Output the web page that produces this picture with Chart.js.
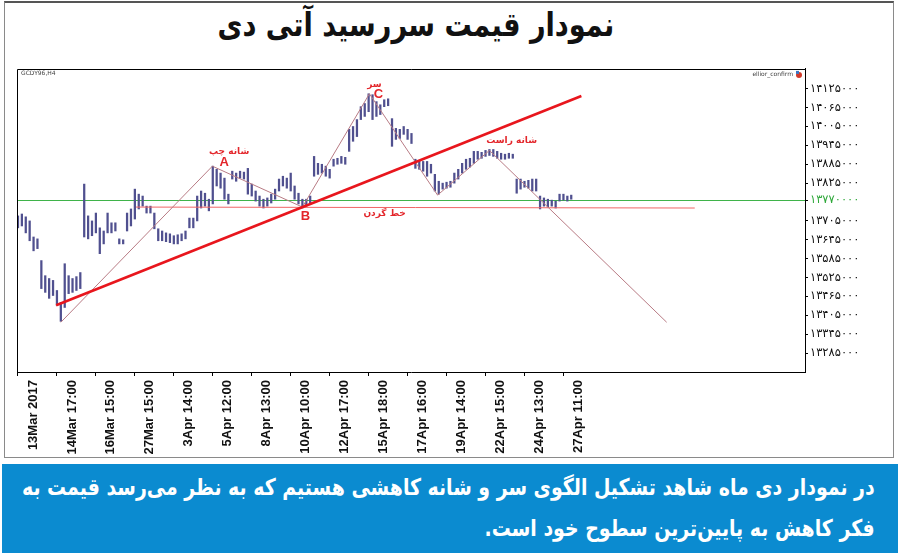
<!DOCTYPE html>
<html><head><meta charset="utf-8">
<script src="https://cdn.jsdelivr.net/npm/chart.js@4/dist/chart.umd.min.js"></script>
<style>
html,body{margin:0;padding:0;background:#fff;width:900px;height:558px;overflow:hidden;}
#frame{position:absolute;left:4px;top:1px;width:890px;height:457px;border:1px solid #8a8a8a;border-top:2px solid #555;box-sizing:border-box;}
#title{position:absolute;left:0;top:5px;width:832px;text-align:center;font-family:"DejaVu Sans",sans-serif;font-weight:bold;font-size:33px;direction:rtl;color:#111;white-space:nowrap;}
#title span{display:inline-block;transform-origin:50% 50%;}
#wrap{position:absolute;left:5px;top:60px;width:887px;height:396px;}
#caption{position:absolute;left:2px;top:464px;width:896px;height:89px;background:#0b8bd0;color:#fff;direction:rtl;font-family:"DejaVu Sans",sans-serif;font-weight:bold;font-size:23px;}
#caption div{position:absolute;right:23px;white-space:nowrap;transform-origin:100% 50%;}
</style></head>
<body>
<div id="frame"></div>
<div id="title"><span id="tt">نمودار قیمت سررسید آتی دی</span></div>
<div id="wrap"><canvas id="c"></canvas></div>
<div id="caption">
<div id="l1" style="top:10px">در نمودار دی ماه شاهد تشکیل الگوی سر و شانه کاهشی هستیم که به نظر می‌رسد قیمت به</div>
<div id="l2" style="top:51px">فکر کاهش به پایین‌ترین سطوح خود است.</div>
</div>
<script>
// ---- data ----
const xLabels = ["13Mar 2017","14Mar 17:00","16Mar 15:00","27Mar 15:00","3Apr 14:00","5Apr 12:00","8Apr 13:00","10Apr 10:00","12Apr 17:00","15Apr 18:00","17Apr 16:00","19Apr 14:00","22Apr 15:00","24Apr 13:00","27Apr 11:00"];
const xTickBars = [0,10,20,30,40,50,60,70,80,90,100,110,120,130,140];
const yTicks = [14125000,14065000,14005000,13945000,13885000,13825000,13770000,13705000,13645000,13585000,13525000,13465000,13405000,13345000,13285000];
const currentPrice = 13770000;
const highs = [13721000,13727000,13718000,13705000,13654000,13648000,13579000,13531000,13522000,13516000,
13484000,13446000,13569000,13531000,13522000,13528000,13541000,13822000,13721000,13705000,
13730000,13683000,13673000,13730000,13699000,13699000,13648000,13645000,13730000,13743000,
13806000,13790000,13784000,13752000,13752000,13730000,13680000,13673000,13667000,13664000,
13658000,13661000,13664000,13673000,13714000,13714000,13784000,13800000,13793000,13774000,
13879000,13869000,13857000,13841000,13790000,13863000,13857000,13863000,13860000,13872000,
13822000,13800000,13784000,13774000,13778000,13790000,13806000,13838000,13847000,13841000,
13857000,13816000,13793000,13774000,13774000,13784000,13910000,13888000,13885000,13879000,
13869000,13901000,13904000,13910000,13907000,13996000,14005000,14027000,14068000,14078000,
14109000,14106000,14084000,14074000,14090000,14093000,14030000,13999000,13996000,14005000,
13996000,13983000,13901000,13894000,13894000,13894000,13885000,13853000,13831000,13825000,
13828000,13831000,13857000,13869000,13888000,13901000,13904000,13926000,13926000,13923000,
13929000,13932000,13932000,13926000,13920000,13917000,13920000,13917000,13838000,13838000,
13831000,13834000,13838000,13838000,13784000,13778000,13774000,13771000,13768000,13790000,
13790000,13784000,13787000];
const lows = [13683000,13689000,13667000,13642000,13610000,13617000,13490000,13478000,13459000,13468000,
13437000,13386000,13430000,13474000,13478000,13484000,13490000,13654000,13648000,13658000,
13667000,13601000,13632000,13667000,13667000,13673000,13632000,13632000,13673000,13689000,
13711000,13743000,13752000,13730000,13730000,13680000,13642000,13642000,13639000,13636000,
13632000,13632000,13642000,13648000,13683000,13683000,13705000,13746000,13752000,13737000,
13759000,13816000,13809000,13774000,13759000,13838000,13831000,13841000,13838000,13790000,
13784000,13768000,13752000,13746000,13752000,13762000,13774000,13800000,13816000,13809000,
13800000,13774000,13759000,13746000,13752000,13759000,13847000,13853000,13857000,13847000,
13841000,13879000,13885000,13888000,13885000,13926000,13958000,13973000,14027000,14037000,
14052000,14027000,14037000,14043000,14068000,14071000,13942000,13964000,13967000,13980000,
13964000,13951000,13872000,13869000,13863000,13847000,13857000,13800000,13790000,13806000,
13809000,13812000,13825000,13838000,13857000,13869000,13876000,13888000,13901000,13904000,
13910000,13913000,13910000,13904000,13901000,13901000,13904000,13904000,13793000,13806000,
13812000,13809000,13800000,13800000,13743000,13752000,13749000,13752000,13746000,13768000,
13771000,13768000,13774000];
const trendX = [9.8, 144.6];
const trendY = [13437000, 14102000];
const zigX = [11.0, 49.9, 73.0, 90.2, 107.7, 121.0, 166.5];
const zigY = [13383000, 13879000, 13749000, 14109000, 13787000, 13929000, 13383000];
const neckX = [30.3, 173.7];
const neckY = [13749000, 13746000];
const noteText = ["شانه چپ","A","B","سر","C","شانه راست","خط گردن"];
const noteX = [54.2, 52.9, 73.8, 91.5, 92.5, 126.7, 94.1];
const noteY = [13926000, 13891000, 13718000, 14139000, 14106000, 13961000, 13727000];
const symbolText = "GCDY96,H4";
const indicatorText = "ellior_confirm";

const faDigits = "۰۱۲۳۴۵۶۷۸۹";
const toFa = v => String(v).replace(/\d/g, d => faDigits[d]);

// fit header / caption text widths to the reference layout
(function fitText() {
  const tt = document.getElementById('tt');
  tt.style.transform = 'scaleX(' + (397 / tt.offsetWidth) + ')';
  const l1 = document.getElementById('l1'), l2 = document.getElementById('l2');
  const s = 853 / l1.offsetWidth;
  l1.style.transform = 'scaleX(' + s + ')';
  l2.style.transform = 'scaleX(' + s + ')';
})();

const decor = {
  id: 'decor',
  beforeDatasetsDraw(chart) {
    const {ctx, chartArea: a, scales: {y}} = chart;
    const py = Math.round(y.getPixelForValue(currentPrice)) + 0.5;
    ctx.save();
    ctx.strokeStyle = '#3fb34a'; ctx.lineWidth = 1;
    ctx.beginPath(); ctx.moveTo(a.left, py); ctx.lineTo(a.right, py); ctx.stroke();
    ctx.restore();
  },
  afterDatasetsDraw(chart) {
    const {ctx, chartArea: a, scales: {x, y}} = chart;
    ctx.save();
    ctx.strokeStyle = '#000'; ctx.lineWidth = 1;
    ctx.beginPath();
    ctx.moveTo(Math.round(a.left) + 0.5, a.bottom);
    ctx.lineTo(Math.round(a.left) + 0.5, Math.round(a.top) + 0.5);
    ctx.lineTo(a.right, Math.round(a.top) + 0.5);
    ctx.stroke();
    ctx.textAlign = 'center'; ctx.textBaseline = 'middle'; ctx.fillStyle = '#e3262b';
    noteText.forEach((t, i) => {
      ctx.font = /^[A-Z]$/.test(t) ? 'bold 13px "Liberation Sans"' : 'bold 9px "DejaVu Sans"';
      ctx.fillText(t, x.getPixelForValue(noteX[i]), y.getPixelForValue(noteY[i]));
    });
    ctx.fillStyle = '#444'; ctx.font = '6px "DejaVu Sans"';
    ctx.textAlign = 'left';
    ctx.fillText(symbolText, a.left + 4, a.top + 5);
    ctx.textAlign = 'right';
    ctx.fillText(indicatorText, a.right - 12, a.top + 6);
    ctx.fillStyle = '#d23a2a';
    ctx.beginPath(); ctx.arc(a.right - 6, a.top + 6, 3, 0, Math.PI * 2); ctx.fill();
    ctx.fillStyle = '#3a78c8';
    ctx.fillRect(a.right - 9, a.top + 2, 3, 3);
    ctx.restore();
  }
};

new Chart(document.getElementById('c'), {
  type: 'bar',
  data: {
    datasets: [
      {type: 'line', data: trendX.map((v, i) => ({x: v, y: trendY[i]})), borderColor: '#e8161d', borderWidth: 2.6, pointRadius: 0, order: 1},
      {type: 'line', data: zigX.map((v, i) => ({x: v, y: zigY[i]})), borderColor: '#b87b84', borderWidth: 1, pointRadius: 0, order: 1},
      {type: 'line', data: neckX.map((v, i) => ({x: v, y: neckY[i]})), borderColor: '#f06464', borderWidth: 1, pointRadius: 0, order: 1},
      {type: 'bar', data: highs.map((h, i) => ({x: i, y: [lows[i], h]})), backgroundColor: '#50508f', barThickness: 1.6, order: 2}
    ]
  },
  options: {
    animation: false, responsive: true, maintainAspectRatio: false,
    layout: {padding: {left: 12, top: 7, right: 0, bottom: 0}},
    plugins: {legend: {display: false}, tooltip: {enabled: false}},
    scales: {
      x: {
        type: 'linear', min: -0.25, max: 202, offset: false, position: 'bottom',
        grid: {display: true, drawOnChartArea: false, drawTicks: true, tickLength: 4, color: '#000', offset: false},
        border: {display: true, color: '#000'},
        afterBuildTicks: s => { s.ticks = xTickBars.map(v => ({value: v})); },
        afterFit: s => { s.height = 84; },
        ticks: {autoSkip: false, minRotation: 90, maxRotation: 90, labelOffset: 15, padding: 4, color: '#111',
          font: {family: 'Liberation Sans', size: 13, weight: 'bold'},
          callback: (v, i) => xLabels[i]}
      },
      y: {
        type: 'linear', position: 'right', min: 13225000, max: 14188000,
        grid: {drawOnChartArea: false, tickLength: 3, color: '#000'},
        border: {display: true, color: '#000'},
        afterBuildTicks: s => { s.ticks = yTicks.map(v => ({value: v})); },
        afterFit: s => { s.width = 87; },
        ticks: {autoSkip: false, padding: 2, font: {family: 'DejaVu Sans', size: 11.5},
          color: c => (c.tick && c.tick.value === currentPrice) ? '#2fa83a' : '#111',
          callback: v => toFa(v)}
      }
    }
  },
  plugins: [decor]
});
</script>
</body></html>
